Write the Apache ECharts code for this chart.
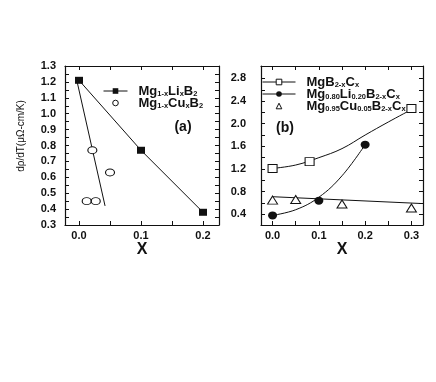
<!DOCTYPE html>
<html>
<head>
<meta charset="utf-8">
<script src="https://cdn.jsdelivr.net/npm/echarts@6/dist/echarts.min.js"></script>
<style>
  html, body { margin: 0; padding: 0; background: #fff; }
  #chart { width: 436px; height: 382px; }
</style>
</head>
<body>
<div id="chart"></div>
<script>
// panel (a): resistivity slope vs x
var liX = [0, 0.1, 0.2];
var liY = [1.21, 0.77, 0.38];
var cuX = [0.0124, 0.0215, 0.027, 0.05];
var cuY = [0.45, 0.77, 0.45, 0.63];
var cuFitX = [-0.003, 0.042];
var cuFitY = [1.2, 0.42];

// panel (b): carbon doped
var cX = [0, 0.08, 0.3];
var cY = [1.21, 1.33, 2.27];
var cFitX = [0, 0.05, 0.1, 0.15, 0.2, 0.25, 0.3];
var cFitY = [1.21, 1.27, 1.40, 1.56, 1.80, 2.03, 2.25];
var liCX = [0, 0.1, 0.2];
var liCY = [0.38, 0.64, 1.63];
var liCFitX = [0, 0.05, 0.1, 0.15, 0.2];
var liCFitY = [0.38, 0.48, 0.70, 1.08, 1.63];
var cuCX = [0, 0.05, 0.15, 0.3];
var cuCY = [0.65, 0.66, 0.58, 0.51];
var cuCFitX = [0, 0.32];
var cuCFitY = [0.71, 0.59];

// ticks
var aXTicks = [0, 0.05, 0.1, 0.15, 0.2];
var aXLabels = [0, 0.1, 0.2];
var aYTicks = [0.3, 0.35, 0.4, 0.45, 0.5, 0.55, 0.6, 0.65, 0.7, 0.75, 0.8, 0.85, 0.9, 0.95, 1.0, 1.05, 1.1, 1.15, 1.2, 1.25, 1.3];
var aYLabels = [0.3, 0.4, 0.5, 0.6, 0.7, 0.8, 0.9, 1.0, 1.1, 1.2, 1.3];
var bXTicks = [0, 0.05, 0.1, 0.15, 0.2, 0.25, 0.3];
var bXLabels = [0, 0.1, 0.2, 0.3];
var bYTicks = [0.4, 0.6, 0.8, 1.0, 1.2, 1.4, 1.6, 1.8, 2.0, 2.2, 2.4, 2.6, 2.8];
var bYLabels = [0.4, 0.8, 1.2, 1.6, 2.0, 2.4, 2.8];

var nameLiA = 'Mg1-xLixB2';
var nameCuA = 'Mg1-xCuxB2';
var nameC = 'MgB2-xCx';
var nameLiC = 'Mg0.80Li0.20B2-xCx';
var nameCuC = 'Mg0.95Cu0.05B2-xCx';

var legendRich = {};
legendRich[nameLiA] = '{n|Mg}{s|1-x}{n|Li}{s|x}{n|B}{s|2}';
legendRich[nameCuA] = '{n|Mg}{s|1-x}{n|Cu}{s|x}{n|B}{s|2}';
legendRich[nameC] = '{n|MgB}{s|2-x}{n|C}{s|x}';
legendRich[nameLiC] = '{n|Mg}{s|0.80}{n|Li}{s|0.20}{n|B}{s|2-x}{n|C}{s|x}';
legendRich[nameCuC] = '{n|Mg}{s|0.95}{n|Cu}{s|0.05}{n|B}{s|2-x}{n|C}{s|x}';

function pairs(xs, ys) {
    return xs.map(function (x, i) { return [x, ys[i]]; });
}

var FONT = 'Liberation Sans, Arial, sans-serif';
var black = '#111';

function makeAxis(opt) {
    var ax = {
        type: 'value',
        gridIndex: opt.grid,
        position: opt.position,
        min: opt.min,
        max: opt.max,
        splitLine: { show: false },
        axisLine: { show: true, onZero: false, lineStyle: { color: black, width: 1.2 } },
        axisTick: {
            show: true,
            inside: true,
            length: 4,
            customValues: opt.ticks,
            lineStyle: { color: black, width: 1 }
        },
        axisLabel: {
            show: !!opt.labels,
            customValues: opt.labels,
            margin: opt.margin,
            color: black,
            fontFamily: FONT,
            fontWeight: 'bold',
            fontSize: 11,
            formatter: function (v) { return Number(v).toFixed(1); }
        }
    };
    if (opt.name) {
        ax.name = opt.name;
        ax.nameLocation = 'middle';
        ax.nameGap = 13;
        ax.nameTextStyle = { color: black, fontFamily: FONT, fontWeight: 'bold', fontSize: 16 };
    }
    return ax;
}

var legendText = {
    color: black,
    fontFamily: FONT,
    padding: [0, 0, 0, 6],
    rich: {
        n: { fontFamily: FONT, fontWeight: 'bold', fontSize: 13, color: black, lineHeight: 11 },
        s: { fontFamily: FONT, fontWeight: 'bold', fontSize: 7.5, color: black, lineHeight: 5, padding: [6, 0, 0, 0] }
    }
};

var noLine = { opacity: 0 };

var chart = echarts.init(document.getElementById('chart'));

chart.setOption({
    animation: false,
    backgroundColor: '#fff',
    grid: [
        { left: 65, top: 66, width: 154, height: 159, outerBoundsMode: 'none' },
        { left: 261, top: 66, width: 162, height: 159, outerBoundsMode: 'none' }
    ],
    xAxis: [
        makeAxis({ grid: 0, position: 'bottom', min: -0.0226, max: 0.2258, ticks: aXTicks, labels: aXLabels, margin: 5, name: 'X' }),
        makeAxis({ grid: 0, position: 'top', min: -0.0226, max: 0.2258, ticks: aXTicks }),
        makeAxis({ grid: 1, position: 'bottom', min: -0.025, max: 0.325, ticks: bXTicks, labels: bXLabels, margin: 5, name: 'X' }),
        makeAxis({ grid: 1, position: 'top', min: -0.025, max: 0.325, ticks: bXTicks })
    ],
    yAxis: [
        makeAxis({ grid: 0, position: 'left', min: 0.3, max: 1.3, ticks: aYTicks, labels: aYLabels, margin: 9 }),
        makeAxis({ grid: 0, position: 'right', min: 0.3, max: 1.3, ticks: aYTicks }),
        makeAxis({ grid: 1, position: 'left', min: 0.21, max: 3.02, ticks: bYTicks, labels: bYLabels, margin: 15 }),
        makeAxis({ grid: 1, position: 'right', min: 0.21, max: 3.02, ticks: bYTicks })
    ],
    legend: [
        {
            orient: 'vertical',
            left: 98,
            top: 79,
            itemWidth: 24,
            itemHeight: 7,
            itemGap: -2,
            lineStyle: { color: black, width: 1, opacity: 1 },
            itemStyle: { borderWidth: 1 },
            textStyle: legendText,
            formatter: function (n) { return legendRich[n]; },
            data: [nameLiA, { name: nameCuA, lineStyle: noLine }]
        },
        {
            orient: 'vertical',
            left: 257,
            top: 70,
            itemWidth: 33,
            itemHeight: 7,
            itemGap: -2,
            lineStyle: { color: black, width: 1, opacity: 1 },
            itemStyle: { borderWidth: 1 },
            textStyle: legendText,
            formatter: function (n) { return legendRich[n]; },
            data: [nameC, nameLiC, { name: nameCuC, lineStyle: noLine }]
        }
    ],
    graphic: [
        {
            type: 'text', x: 21, y: 136, rotation: Math.PI / 2,
            style: {
                text: 'dρ/dT(μΩ-cm/K)',
                font: '10px "Liberation Sans", Arial, sans-serif',
                fill: black, textAlign: 'center', textVerticalAlign: 'middle'
            }
        },
        {
            type: 'text', x: 183, y: 127,
            style: { text: '(a)', font: 'bold 14px ' + FONT, fill: black, textAlign: 'center', textVerticalAlign: 'middle' }
        },
        {
            type: 'text', x: 285, y: 128,
            style: { text: '(b)', font: 'bold 14px ' + FONT, fill: black, textAlign: 'center', textVerticalAlign: 'middle' }
        }
    ],
    series: [
        {
            name: nameLiA, type: 'line', xAxisIndex: 0, yAxisIndex: 0,
            data: pairs(liX, liY),
            symbol: 'rect', symbolSize: [8, 7],
            itemStyle: { color: black },
            lineStyle: { color: black, width: 1 }
        },
        {
            name: nameCuA, type: 'line', xAxisIndex: 0, yAxisIndex: 0,
            data: pairs(cuX, cuY),
            symbol: 'circle', symbolSize: [9, 7],
            itemStyle: { color: '#fff', borderColor: black, borderWidth: 1 },
            lineStyle: noLine,
            z: 3
        },
        {
            name: 'cuFitA', type: 'line', xAxisIndex: 0, yAxisIndex: 0,
            data: pairs(cuFitX, cuFitY),
            symbol: 'none',
            lineStyle: { color: black, width: 1 }
        },
        {
            name: nameC, type: 'line', xAxisIndex: 2, yAxisIndex: 2,
            data: pairs(cX, cY),
            symbol: 'rect', symbolSize: [9, 8],
            itemStyle: { color: '#fff', borderColor: black, borderWidth: 1 },
            lineStyle: noLine,
            z: 3
        },
        {
            name: 'cFit', type: 'line', xAxisIndex: 2, yAxisIndex: 2,
            data: pairs(cFitX, cFitY),
            symbol: 'none', smooth: 0.4,
            lineStyle: { color: black, width: 1 }
        },
        {
            name: nameLiC, type: 'line', xAxisIndex: 2, yAxisIndex: 2,
            data: pairs(liCX, liCY),
            symbol: 'circle', symbolSize: [9, 8],
            itemStyle: { color: black },
            lineStyle: noLine,
            z: 3
        },
        {
            name: 'liCFit', type: 'line', xAxisIndex: 2, yAxisIndex: 2,
            data: pairs(liCFitX, liCFitY),
            symbol: 'none', smooth: 0.4,
            lineStyle: { color: black, width: 1 }
        },
        {
            name: nameCuC, type: 'line', xAxisIndex: 2, yAxisIndex: 2,
            data: pairs(cuCX, cuCY),
            symbol: 'triangle', symbolSize: [10, 8],
            itemStyle: { color: '#fff', borderColor: black, borderWidth: 1 },
            lineStyle: noLine,
            z: 3
        },
        {
            name: 'cuCFit', type: 'line', xAxisIndex: 2, yAxisIndex: 2,
            data: pairs(cuCFitX, cuCFitY),
            symbol: 'none',
            lineStyle: { color: black, width: 1 }
        }
    ]
});
</script>
</body>
</html>
